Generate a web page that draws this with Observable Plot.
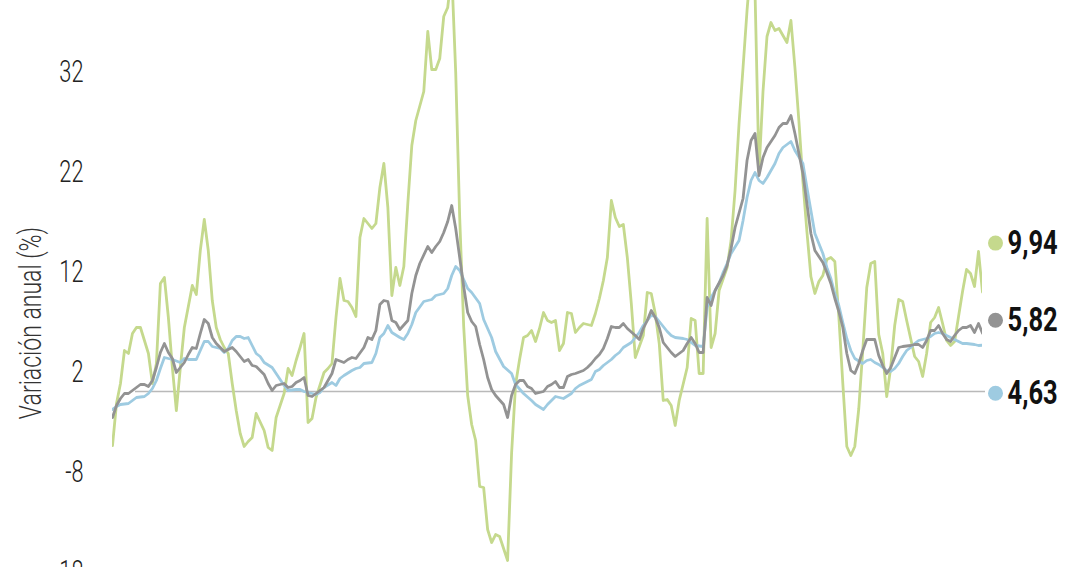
<!DOCTYPE html>
<html><head><meta charset="utf-8">
<script src="https://cdn.jsdelivr.net/npm/d3@7"></script>
<script src="https://cdn.jsdelivr.net/npm/@observablehq/plot@0.6"></script>
<style>
html,body{margin:0;padding:0;background:#fff;overflow:hidden;width:1080px;height:567px}
#chart svg{display:block}
</style></head><body><div id="chart"></div>
<script>
// [mes, variación anual %]
const verde = [[0,-5.4],[1,-1.2],[2,0.8],[3,4.1],[4,3.8],[5,5.8],[6,6.4],[7,6.4],[9,3.8],[10,0.8],[11,2.8],[12,10.8],[13,11.4],[14,7.4],[15,2.4],[16,-1.9],[17,2.4],[18,6.4],[20,10.6],[21,9.7],[22,14.1],[23,17.2],[24,14.1],[25,9.1],[26,6.4],[27,5.2],[28,4.4],[29,3.8],[30,0.8],[31,-1.9],[32,-4.2],[33,-5.5],[34,-5.0],[35,-4.6],[36,-2.2],[38,-3.9],[39,-5.6],[40,-5.9],[41,-2.6],[43,-0.2],[44,2.3],[45,1.6],[46,3.1],[47,4.4],[48,5.8],[49,-3.1],[50,-2.7],[51,-0.6],[53,1.9],[54,2.3],[55,2.8],[56,7.4],[57,11.3],[58,9.1],[59,9.0],[60,8.4],[61,7.5],[62,15.4],[63,17.3],[65,16.3],[66,16.8],[67,20.4],[68,22.8],[69,18.4],[70,9.6],[71,12.4],[72,10.6],[73,12.5],[74,18.8],[75,24.6],[76,27.1],[78,30.0],[79,36.0],[80,32.2],[81,32.2],[82,33.3],[83,37.5],[84,38.4],[85,42.0],[86,31.9],[87,17.4],[88,6.5],[89,-0.4],[90,-3.3],[91,-4.9],[92,-9.5],[93,-9.6],[94,-13.8],[95,-15.1],[96,-14.3],[97,-14.5],[99,-16.9],[100,-6.2],[101,0.7],[102,3.2],[103,5.4],[104,5.6],[105,6.1],[106,5.0],[107,6.3],[108,7.9],[109,7.1],[110,6.9],[111,7.1],[112,4.1],[113,4.8],[114,7.9],[115,7.8],[116,5.9],[117,6.4],[118,6.8],[120,6.6],[121,7.8],[122,9.3],[123,11.1],[124,13.4],[125,19.1],[126,17.4],[127,16.5],[128,16.7],[129,13.4],[130,8.8],[131,3.4],[133,5.6],[134,9.9],[135,9.8],[136,7.8],[137,4.8],[138,-0.9],[139,-0.8],[140,-1.4],[141,-3.4],[142,-0.9],[144,2.4],[145,7.3],[146,7.1],[147,1.8],[148,1.8],[149,17.3],[150,4.4],[151,5.8],[152,10.1],[154,12.4],[155,15.1],[156,20.1],[157,26.8],[158,32.4],[159,38.1],[160,43.0],[161,40.0],[162,22.0],[163,30.0],[164,35.5],[165,36.9],[166,36.1],[167,36.3],[168,35.6],[169,34.9],[170,37.1],[171,32.4],[172,27.0],[173,21.0],[174,16.0],[175,11.5],[176,9.8],[177,11.0],[178,11.6],[179,13.2],[180,13.4],[181,13.0],[182,7.5],[183,0.8],[184,-5.5],[185,-6.4],[186,-5.5],[187,-1.7],[188,4.1],[189,10.4],[190,12.8],[191,13.0],[192,5.7],[193,3.8],[194,-0.5],[195,2.4],[196,6.6],[197,9.2],[198,9.0],[199,7.1],[200,5.3],[201,3.5],[202,3.0],[203,1.5],[204,3.8],[205,6.9],[206,7.4],[207,8.4],[208,6.8],[209,5.1],[210,4.6],[211,5.0],[212,7.5],[213,10.0],[214,12.2],[215,11.8],[216,10.5],[217,14.0],[218,9.94]];

const gris = [[0,-2.6],[1,-1.4],[2,-0.7],[3,-0.2],[4,-0.2],[6,0.4],[7,0.7],[8,0.7],[9,0.5],[10,1.1],[11,2.4],[12,3.9],[13,4.8],[14,3.9],[15,3.3],[16,1.9],[18,2.9],[19,3.7],[20,4.4],[21,4.3],[22,5.8],[23,7.2],[24,6.8],[25,5.4],[26,4.8],[27,4.4],[28,4.0],[30,4.4],[31,4.0],[32,3.5],[33,3.0],[34,3.2],[35,2.6],[36,2.5],[38,1.7],[39,0.8],[40,0.1],[41,0.6],[43,0.8],[44,0.4],[45,0.5],[46,0.9],[47,1.1],[48,1.4],[49,-0.4],[50,-0.5],[51,-0.2],[53,0.4],[54,1.1],[55,1.8],[56,3.2],[58,2.9],[59,3.2],[60,3.4],[61,3.3],[63,4.4],[64,5.4],[65,5.2],[66,6.1],[67,8.7],[68,9.1],[69,9.0],[70,7.1],[71,6.9],[72,6.2],[74,7.1],[75,9.8],[76,11.6],[77,12.8],[79,14.5],[80,13.9],[81,14.5],[82,15.0],[83,15.9],[84,17.0],[85,18.6],[86,16.3],[87,13.4],[88,10.5],[89,7.9],[90,7.0],[91,6.5],[92,4.7],[93,3.2],[94,1.4],[95,0.2],[96,-0.4],[98,-1.3],[99,-2.6],[100,-0.4],[101,0.7],[102,1.1],[103,1.1],[104,0.5],[105,0.3],[106,-0.2],[108,0.0],[109,0.5],[110,0.7],[111,1.0],[112,0.4],[113,0.4],[114,1.5],[115,1.7],[116,1.8],[118,2.1],[119,2.4],[120,2.8],[121,3.3],[122,3.7],[123,4.3],[124,5.3],[125,6.5],[126,6.4],[127,6.4],[128,6.8],[129,6.3],[131,5.6],[132,5.2],[133,6.3],[134,7.1],[135,8.1],[136,7.4],[137,6.4],[138,4.9],[139,4.4],[140,3.9],[141,3.5],[143,4.1],[144,4.8],[145,5.4],[146,4.8],[147,3.9],[148,3.9],[149,9.4],[150,8.6],[151,10.1],[153,11.6],[154,12.6],[155,14.3],[156,16.4],[158,19.3],[159,23.1],[160,25.1],[161,25.8],[162,21.6],[163,23.4],[164,24.4],[166,25.6],[167,26.4],[168,26.8],[169,26.8],[170,27.6],[171,25.8],[172,23.8],[173,21.8],[174,18.8],[175,15.8],[176,14.1],[178,12.9],[179,11.9],[180,10.8],[181,9.3],[182,8.0],[183,6.4],[184,3.8],[185,2.1],[186,1.8],[187,2.8],[188,4.1],[189,5.2],[191,5.2],[192,3.6],[193,2.6],[194,1.8],[195,2.4],[196,3.4],[197,4.4],[198,4.5],[200,4.6],[201,4.7],[202,4.7],[203,4.4],[204,5.1],[205,6.1],[206,6.1],[207,6.6],[208,5.8],[209,5.2],[210,5.0],[211,5.6],[212,6.1],[213,6.4],[214,6.4],[215,6.6],[216,5.9],[217,6.8],[218,5.82]];

const azul = [[0,-1.8],[1,-1.5],[2,-1.3],[4,-1.2],[5,-0.9],[6,-0.6],[8,-0.5],[9,-0.2],[10,0.3],[11,1.1],[12,2.3],[13,3.4],[14,3.3],[15,3.2],[17,2.9],[18,3.3],[19,3.2],[21,3.2],[22,4.1],[23,5.0],[24,5.0],[25,4.5],[27,4.3],[28,3.9],[29,4.3],[30,5.1],[31,5.5],[32,5.5],[33,5.3],[34,5.4],[35,4.6],[36,3.8],[37,3.5],[38,2.9],[40,2.4],[41,1.8],[42,1.2],[43,0.6],[44,0.1],[46,0.2],[47,0.2],[48,0.0],[50,-0.2],[51,-0.3],[52,-0.1],[53,0.4],[55,0.9],[56,0.6],[57,1.3],[58,1.6],[60,2.1],[61,2.3],[62,2.4],[63,2.8],[65,2.9],[66,3.8],[67,5.4],[68,5.8],[69,6.6],[70,5.9],[72,5.4],[73,5.2],[74,5.8],[75,6.7],[76,7.9],[78,9.0],[80,9.2],[81,9.6],[83,9.8],[84,10.3],[85,11.6],[86,12.5],[87,12.1],[88,11.2],[89,10.3],[90,9.9],[92,8.8],[93,7.2],[95,5.4],[96,4.0],[98,2.5],[100,1.8],[101,0.7],[103,-0.2],[105,-0.9],[106,-1.3],[108,-1.8],[109,-1.3],[110,-0.9],[111,-0.5],[112,-0.6],[113,-0.7],[115,-0.2],[116,0.3],[117,0.6],[118,0.8],[120,1.2],[121,2.0],[122,2.2],[123,2.6],[125,3.2],[126,3.6],[127,3.9],[128,4.4],[130,4.9],[131,5.4],[132,5.9],[133,6.6],[135,7.6],[136,7.5],[137,7.0],[138,6.5],[139,6.0],[140,5.6],[141,5.4],[143,5.3],[144,5.2],[145,4.9],[146,4.6],[148,4.5],[149,8.4],[150,9.4],[152,10.8],[153,11.9],[154,12.8],[155,13.8],[157,15.1],[158,17.1],[159,19.4],[160,21.1],[161,21.9],[162,21.1],[163,20.8],[164,21.4],[166,22.8],[167,23.8],[168,24.4],[169,24.7],[170,25.0],[171,24.1],[173,22.8],[174,20.4],[175,18.1],[176,15.8],[178,13.8],[179,12.4],[180,11.3],[181,9.8],[182,8.6],[183,6.9],[184,5.3],[185,4.1],[186,3.3],[188,2.8],[189,3.1],[190,3.2],[191,2.9],[192,2.7],[193,2.4],[194,2.1],[195,2.0],[196,2.3],[197,2.8],[198,3.5],[199,4.1],[200,4.4],[201,4.8],[202,5.1],[203,5.2],[204,5.3],[205,5.5],[206,5.8],[207,5.9],[208,5.8],[209,5.6],[210,5.4],[211,5.2],[212,5.0],[213,4.8],[214,4.8],[216,4.7],[217,4.6],[218,4.63]];

const yTicks = [32, 22, 12, 2, -8, -18];
const tituloY = "Variación anual (%)";

// estilos
const colores = {verde: "#c5d98d", gris: "#939393", azul: "#9ecbe1"};
const etiquetaDy = {verde: -49, gris: -13, azul: 48};
const fuente = 'Roboto,"Liberation Sans",sans-serif';

const seriesData = {verde, gris, azul};
const rows = Object.entries(seriesData).flatMap(([serie, arr]) => arr.map(([mes, valor]) => ({serie, mes, valor})));
const fmt = v => d3.format(".2f")(v).replace(".", ",");
const ultimos = ["verde", "gris", "azul"].map(s => rows.filter(r => r.serie === s).at(-1));
const textosEtiqueta = new Set(ultimos.map(d => fmt(d.valor)));

const lineOrder = ["verde", "azul", "gris"];
const marks = [
  Plot.ruleY([0], {stroke: "#b9b9b9", strokeWidth: 1.5, insetLeft: 23, insetRight: -3}),
  ...lineOrder.map(s => Plot.line(rows.filter(r => r.serie === s), {x: "mes", y: "valor", stroke: colores[s], strokeWidth: 2.8, strokeLinejoin: "round", clip: true})),
  ...ultimos.flatMap(last => [
    Plot.dot([last], {x: "mes", y: "valor", r: 7.5, fill: colores[last.serie], dx: 13, dy: etiquetaDy[last.serie]}),
    Plot.text([last], {x: "mes", y: "valor", text: d => fmt(d.valor), dx: 25, dy: etiquetaDy[last.serie], textAnchor: "start", fontWeight: 700, fontSize: 34, fill: "#111"})
  ]),
  Plot.text([tituloY], {frameAnchor: "left", textAnchor: "middle", rotate: -90, dx: -82, dy: 27, fontSize: 32, fontWeight: 300, fill: "#333"})
];

const chart = Plot.plot({
  width: 1080,
  height: 591,
  marginLeft: 112,
  marginRight: 98,
  marginTop: 0,
  marginBottom: 0,
  x: {domain: [0, 218], axis: null},
  y: {domain: [-20, 39.1], ticks: yTicks, tickSize: 0, tickPadding: 29, tickFormat: d => String(d), label: null},
  style: {fontFamily: fuente, fontSize: "32px", fontWeight: 300, color: "#222", background: "#fff", overflow: "hidden"},
  marks
});

// texto condensado (la fuente original es estrecha)
const tickSet = new Set(yTicks.map(String));
chart.querySelectorAll("text").forEach(t => {
  const c = t.textContent;
  const s = c === tituloY ? 0.72 : textosEtiqueta.has(c) ? 0.75 : tickSet.has(c) ? 0.68 : null;
  if (!s) return;
  const tr = t.getAttribute("transform");
  if (tr) t.setAttribute("transform", tr + ` scale(${s},1)`);
  else {
    const x = +t.getAttribute("x") || 0, y = +t.getAttribute("y") || 0;
    t.removeAttribute("x"); t.removeAttribute("y");
    t.setAttribute("transform", `translate(${x},${y}) scale(${s},1)`);
  }
});
document.getElementById("chart").appendChild(chart);
</script></body></html>
